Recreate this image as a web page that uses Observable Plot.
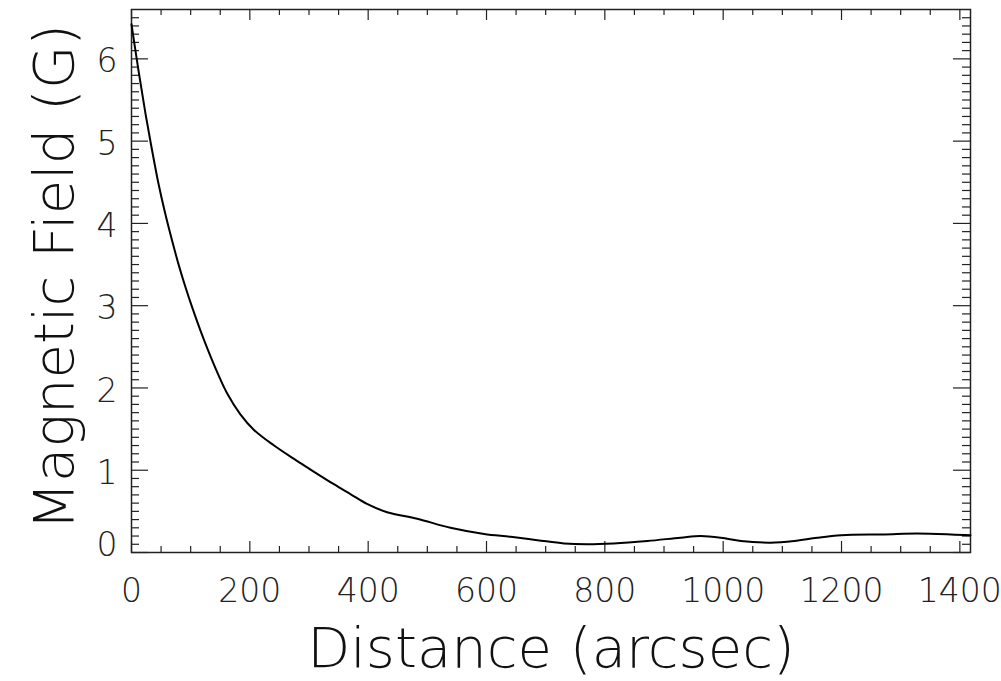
<!DOCTYPE html>
<html>
<head>
<meta charset="utf-8">
<script src="https://cdn.jsdelivr.net/npm/d3@7"></script>
<script src="https://cdn.jsdelivr.net/npm/@observablehq/plot@0.6"></script>
<style>
  html, body { margin: 0; padding: 0; background: #fff; }
</style>
</head>
<body>
<div id="chart"></div>
<script>
// Curve: distance (arcsec) vs magnetic field (G)
const distance = [0, 12, 24, 35, 46, 57, 69, 80, 91, 103, 118, 131, 145, 162, 184, 207, 241, 274, 300, 342, 370, 398, 432, 483, 539, 596, 641, 686, 731, 770, 815, 872, 928, 962, 996, 1030, 1080, 1120, 1159, 1200, 1272, 1328, 1385, 1418];
const field    = [6.42, 5.85, 5.32, 4.88, 4.47, 4.12, 3.78, 3.49, 3.23, 2.97, 2.67, 2.43, 2.19, 1.93, 1.68, 1.49, 1.30, 1.14, 1.02, 0.83, 0.71, 0.59, 0.49, 0.41, 0.30, 0.225, 0.19, 0.15, 0.11, 0.10, 0.11, 0.14, 0.18, 0.20, 0.18, 0.14, 0.12, 0.14, 0.18, 0.21, 0.22, 0.23, 0.22, 0.21];

// Tick values
const xMajorTicks = [0, 200, 400, 600, 800, 1000, 1200, 1400];
const xMinorTicks = [50, 100, 150, 250, 300, 350, 450, 500, 550, 650, 700, 750, 850, 900, 950, 1050, 1100, 1150, 1250, 1300, 1350];
const yMajorTicks = [0, 1, 2, 3, 4, 5, 6];
const yMinorTicks = [0.1,0.2,0.3,0.4,0.5,0.6,0.7,0.8,0.9,1.1,1.2,1.3,1.4,1.5,1.6,1.7,1.8,1.9,2.1,2.2,2.3,2.4,2.5,2.6,2.7,2.8,2.9,3.1,3.2,3.3,3.4,3.5,3.6,3.7,3.8,3.9,4.1,4.2,4.3,4.4,4.5,4.6,4.7,4.8,4.9,5.1,5.2,5.3,5.4,5.5,5.6,5.7,5.8,5.9,6.1,6.2,6.3,6.4,6.5];

const xLabel = "Distance (arcsec)";
const yLabel = "Magnetic Field (G)";

const data = distance.map((d, i) => ({distance: d, field: field[i]}));

const W = 1001, H = 681;
const mL = 131, mR = 31, mT = 9, mB = 129;
const fw = W - mL - mR;   // frame width
const fh = H - mT - mB;   // frame height
const axisColor = "#222";
const font = "'DejaVu Sans', sans-serif";
const fmt = d => String(d);

const chart = Plot.plot({
  width: W,
  height: H,
  marginLeft: mL,
  marginRight: mR,
  marginTop: mT,
  marginBottom: mB,
  style: {fontFamily: font, fontWeight: 200, background: "#fff", color: "#111"},
  x: {domain: [0, 1418], axis: null},
  y: {domain: [0, 6.6], axis: null},
  marks: [
    // bottom / top x ticks (inward)
    Plot.tickX(xMajorTicks, {x: d => d, insetTop: fh - 11, stroke: axisColor, strokeWidth: 1.2}),
    Plot.tickX(xMajorTicks, {x: d => d, insetBottom: fh - 11, stroke: axisColor, strokeWidth: 1.2}),
    Plot.tickX(xMinorTicks, {x: d => d, insetTop: fh - 6, stroke: axisColor, strokeWidth: 1.2}),
    Plot.tickX(xMinorTicks, {x: d => d, insetBottom: fh - 6, stroke: axisColor, strokeWidth: 1.2}),
    // left / right y ticks (inward)
    Plot.tickY(yMajorTicks, {y: d => d, insetRight: fw - 17, stroke: axisColor, strokeWidth: 1.2}),
    Plot.tickY(yMajorTicks, {y: d => d, insetLeft: fw - 17, stroke: axisColor, strokeWidth: 1.2}),
    Plot.tickY(yMinorTicks, {y: d => d, insetRight: fw - 8, stroke: axisColor, strokeWidth: 1.2}),
    Plot.tickY(yMinorTicks, {y: d => d, insetLeft: fw - 8, stroke: axisColor, strokeWidth: 1.2}),
    Plot.frame({stroke: axisColor, strokeWidth: 1.5}),
    Plot.line(data, {x: "distance", y: "field", curve: "catmull-rom", stroke: "#000", strokeWidth: 2}),
    // tick labels
    Plot.axisX(xMajorTicks, {tickSize: 0, tickPadding: 26, fontSize: 33, label: null, tickFormat: fmt, fill: "#222"}),
    Plot.axisY(yMajorTicks.filter(d => d > 0), {tickSize: 0, tickPadding: 14, dy: 3, fontSize: 33, label: null, tickFormat: fmt, fill: "#222"}),
    Plot.axisY(yMajorTicks.filter(d => d === 0), {tickSize: 0, tickPadding: 14, dy: -7, fontSize: 33, label: null, tickFormat: fmt, fill: "#222"}),
    // axis titles
    Plot.text([xLabel], {frameAnchor: "bottom", textAnchor: "middle", lineAnchor: "bottom", dy: 114, fontSize: 56, fill: "#111"}),
    Plot.text([yLabel], {frameAnchor: "left", textAnchor: "middle", rotate: -90, lineAnchor: "bottom", dx: -59, dy: -4, fontSize: 56, fill: "#111"})
  ]
});

document.getElementById("chart").appendChild(chart);
</script>
</body>
</html>
